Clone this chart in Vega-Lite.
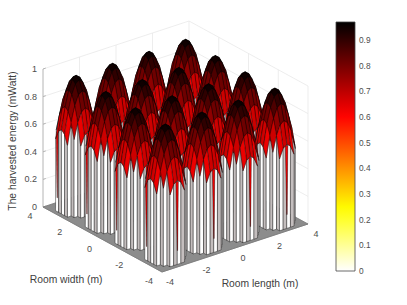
{"$schema":"https://vega.github.io/schema/vega-lite/v6.json","width":407,"height":305,"padding":0,"autosize":"none","background":"white","config":{"view":{"stroke":null},"font":"Liberation Sans"},
"datasets":{
"domes":[{"d":0,"k":1,"cx":3,"cy":3},{"d":1,"k":1,"cx":1,"cy":3},{"d":2,"k":1,"cx":-1,"cy":3},{"d":3,"k":1,"cx":-3,"cy":3},{"d":4,"k":1,"cx":3,"cy":1},{"d":5,"k":1,"cx":1,"cy":1},{"d":6,"k":1,"cx":-1,"cy":1},{"d":7,"k":1,"cx":-3,"cy":1},{"d":8,"k":1,"cx":3,"cy":-1},{"d":9,"k":1,"cx":1,"cy":-1},{"d":10,"k":1,"cx":-1,"cy":-1},{"d":11,"k":1,"cx":-3,"cy":-1},{"d":12,"k":1,"cx":3,"cy":-3},{"d":13,"k":1,"cx":1,"cy":-3},{"d":14,"k":1,"cx":-1,"cy":-3},{"d":15,"k":1,"cx":-3,"cy":-3}],
"dome":[{"k":1,
"q":[0,1,2,3,4,5,6,7,8,9,10,11,12,13,14,15,16,17,18,19,20,21,22,23,24,25,26,27,28,29,30,31,32,33,34,35,36,37,38,39,40,41,42,43,44,45,46,47,48,49,50,51,52,53,54,55,56,57,58,59,60,61,62,63,64,65,66,67,68,69],
"c":[0,-1,0,-1,0,-1,0,-1,0,-1,0,-1,0,-1,0,-1,0.62,0.62,
0.633,0.678,0.678,0.633,
0.678,0.768,0.813,0.813,0.768,0.678,
0.633,0.768,0.858,0.903,0.903,0.858,0.768,0.633,
0.678,0.813,0.903,0.948,0.948,0.903,0.813,0.678,
0.678,0.813,0.903,0.948,0.948,0.903,0.813,0.678,
0.633,0.768,0.858,0.903,0.903,0.858,0.768,0.633,
0.678,0.768,0.813,0.813,0.768,0.678,
0.633,0.678,0.678,0.633],
"x":[[-2,-2,-2,-2,-2],[-3,-3,-3,-3,-3],[3,4,4,3,3],[2,3,3,2,2],[-4,-4,-4,-4,-4],[-4,-4,-4,-4,-4],[-4,-4,-4,-4,-4],[-4,-4,-4,-4,-4],[-4,-3,-3,-4,-4],[-3,-3,-3,-3,-3],[-3,-2,-2,-3,-3],[-2,-2,-2,-2,-2],[-2,-1,-1,-2,-2],[-1,0,0,-1,-1],[0,1,1,0,0],[1,2,2,1,1],[-4,-4,-4,-4,-4],[-0.4,0.3,0.1,0,-0.4],
[1,2,2,1,1],[0,1,1,0,0],[-1,0,0,-1,-1],[-2,-1,-1,-2,-2],
[2,3,3,2,2],[1,2,2,1,1],[0,1,1,0,0],[-1,0,0,-1,-1],[-2,-1,-1,-2,-2],[-3,-2,-2,-3,-3],
[3,4,4,3,3],[2,3,3,2,2],[1,2,2,1,1],[0,1,1,0,0],[-1,0,0,-1,-1],[-2,-1,-1,-2,-2],[-3,-2,-2,-3,-3],[-4,-3,-3,-4,-4],
[3,4,4,3,3],[2,3,3,2,2],[1,2,2,1,1],[0,1,1,0,0],[-1,0,0,-1,-1],[-2,-1,-1,-2,-2],[-3,-2,-2,-3,-3],[-4,-3,-3,-4,-4],
[3,4,4,3,3],[2,3,3,2,2],[1,2,2,1,1],[0,1,1,0,0],[-1,0,0,-1,-1],[-2,-1,-1,-2,-2],[-3,-2,-2,-3,-3],[-4,-3,-3,-4,-4],
[3,4,4,3,3],[2,3,3,2,2],[1,2,2,1,1],[0,1,1,0,0],[-1,0,0,-1,-1],[-2,-1,-1,-2,-2],[-3,-2,-2,-3,-3],[-4,-3,-3,-4,-4],
[2,3,3,2,2],[1,2,2,1,1],[0,1,1,0,0],[-1,0,0,-1,-1],[-2,-1,-1,-2,-2],[-3,-2,-2,-3,-3],
[1,2,2,1,1],[0,1,1,0,0],[-1,0,0,-1,-1],[-2,-1,-1,-2,-2]],
"y":[[3,4,4,3,3],[2,3,3,2,2],[-2,-2,-2,-2,-2],[-3,-3,-3,-3,-3],[1,2,2,1,1],[0,1,1,0,0],[-1,0,0,-1,-1],[-2,-1,-1,-2,-2],[-2,-2,-2,-2,-2],[-3,-2,-2,-3,-3],[-3,-3,-3,-3,-3],[-4,-3,-3,-4,-4],[-4,-4,-4,-4,-4],[-4,-4,-4,-4,-4],[-4,-4,-4,-4,-4],[-4,-4,-4,-4,-4],[1.15,1.8,1.5,1.4,1.15],[-4,-4,-4,-4,-4],
[3,3,4,4,3],[3,3,4,4,3],[3,3,4,4,3],[3,3,4,4,3],
[2,2,3,3,2],[2,2,3,3,2],[2,2,3,3,2],[2,2,3,3,2],[2,2,3,3,2],[2,2,3,3,2],
[1,1,2,2,1],[1,1,2,2,1],[1,1,2,2,1],[1,1,2,2,1],[1,1,2,2,1],[1,1,2,2,1],[1,1,2,2,1],[1,1,2,2,1],
[0,0,1,1,0],[0,0,1,1,0],[0,0,1,1,0],[0,0,1,1,0],[0,0,1,1,0],[0,0,1,1,0],[0,0,1,1,0],[0,0,1,1,0],
[-1,-1,0,0,-1],[-1,-1,0,0,-1],[-1,-1,0,0,-1],[-1,-1,0,0,-1],[-1,-1,0,0,-1],[-1,-1,0,0,-1],[-1,-1,0,0,-1],[-1,-1,0,0,-1],
[-2,-2,-1,-1,-2],[-2,-2,-1,-1,-2],[-2,-2,-1,-1,-2],[-2,-2,-1,-1,-2],[-2,-2,-1,-1,-2],[-2,-2,-1,-1,-2],[-2,-2,-1,-1,-2],[-2,-2,-1,-1,-2],
[-3,-3,-2,-2,-3],[-3,-3,-2,-2,-3],[-3,-3,-2,-2,-3],[-3,-3,-2,-2,-3],[-3,-3,-2,-2,-3],[-3,-3,-2,-2,-3],
[-4,-4,-3,-3,-4],[-4,-4,-3,-3,-4],[-4,-4,-3,-3,-4],[-4,-4,-3,-3,-4]],
"z":[[0.678,0.52,0,0,0.678],[0.678,0.565,0,0,0.678],[0.678,0.52,0,0,0.678],[0.678,0.565,0,0,0.678],[0.588,0.52,0,0,0.588],[0.61,0.588,0,0,0.61],[0.588,0.61,0,0,0.588],[0.52,0.588,0,0,0.52],[0.52,0.678,0,0,0.52],[0.565,0.678,0,0,0.565],[0.565,0.678,0,0,0.565],[0.52,0.678,0,0,0.52],[0.52,0.588,0,0,0.52],[0.588,0.61,0,0,0.588],[0.61,0.588,0,0,0.61],[0.588,0.52,0,0,0.588],[0.58,0.54,0.1,0.1,0.58],[0.6,0.6,0.1,0.1,0.6],
[0.745,0.678,0.52,0.588,0.745],[0.768,0.745,0.588,0.61,0.768],[0.745,0.768,0.61,0.588,0.745],[0.678,0.745,0.588,0.52,0.678],
[0.79,0.678,0.565,0.678,0.79],[0.858,0.79,0.678,0.745,0.858],[0.88,0.858,0.745,0.768,0.88],[0.858,0.88,0.768,0.745,0.858],[0.79,0.858,0.745,0.678,0.79],[0.678,0.79,0.678,0.565,0.678],
[0.745,0.588,0.52,0.678,0.745],[0.858,0.745,0.678,0.79,0.858],[0.925,0.858,0.79,0.858,0.925],[0.948,0.925,0.858,0.88,0.948],[0.925,0.948,0.88,0.858,0.925],[0.858,0.925,0.858,0.79,0.858],[0.745,0.858,0.79,0.678,0.745],[0.588,0.745,0.678,0.52,0.588],
[0.768,0.61,0.588,0.745,0.768],[0.88,0.768,0.745,0.858,0.88],[0.948,0.88,0.858,0.925,0.948],[0.97,0.948,0.925,0.948,0.97],[0.948,0.97,0.948,0.925,0.948],[0.88,0.948,0.925,0.858,0.88],[0.768,0.88,0.858,0.745,0.768],[0.61,0.768,0.745,0.588,0.61],
[0.745,0.588,0.61,0.768,0.745],[0.858,0.745,0.768,0.88,0.858],[0.925,0.858,0.88,0.948,0.925],[0.948,0.925,0.948,0.97,0.948],[0.925,0.948,0.97,0.948,0.925],[0.858,0.925,0.948,0.88,0.858],[0.745,0.858,0.88,0.768,0.745],[0.588,0.745,0.768,0.61,0.588],
[0.678,0.52,0.588,0.745,0.678],[0.79,0.678,0.745,0.858,0.79],[0.858,0.79,0.858,0.925,0.858],[0.88,0.858,0.925,0.948,0.88],[0.858,0.88,0.948,0.925,0.858],[0.79,0.858,0.925,0.858,0.79],[0.678,0.79,0.858,0.745,0.678],[0.52,0.678,0.745,0.588,0.52],
[0.678,0.565,0.678,0.79,0.678],[0.745,0.678,0.79,0.858,0.745],[0.768,0.745,0.858,0.88,0.768],[0.745,0.768,0.88,0.858,0.745],[0.678,0.745,0.858,0.79,0.678],[0.565,0.678,0.79,0.678,0.565],
[0.588,0.52,0.678,0.745,0.588],[0.61,0.588,0.745,0.768,0.61],[0.588,0.61,0.768,0.745,0.588],[0.52,0.588,0.745,0.678,0.52]]}],
"walls":[{"g":"z0a","X":[-4,4],"Y":[4,4],"Z":[0,0]},{"g":"z2a","X":[-4,4],"Y":[4,4],"Z":[0.2,0.2]},{"g":"z4a","X":[-4,4],"Y":[4,4],"Z":[0.4,0.4]},{"g":"z6a","X":[-4,4],"Y":[4,4],"Z":[0.6,0.6]},{"g":"z8a","X":[-4,4],"Y":[4,4],"Z":[0.8,0.8]},{"g":"z1a","X":[-4,4],"Y":[4,4],"Z":[1,1]},
{"g":"z0b","X":[4,4],"Y":[-4,4],"Z":[0,0]},{"g":"z2b","X":[4,4],"Y":[-4,4],"Z":[0.2,0.2]},{"g":"z4b","X":[4,4],"Y":[-4,4],"Z":[0.4,0.4]},{"g":"z6b","X":[4,4],"Y":[-4,4],"Z":[0.6,0.6]},{"g":"z8b","X":[4,4],"Y":[-4,4],"Z":[0.8,0.8]},{"g":"z1b","X":[4,4],"Y":[-4,4],"Z":[1,1]},
{"g":"v1","X":[-2,-2],"Y":[4,4],"Z":[0,1]},{"g":"v2","X":[0,0],"Y":[4,4],"Z":[0,1]},{"g":"v3","X":[2,2],"Y":[4,4],"Z":[0,1]},{"g":"v4","X":[4,4],"Y":[4,4],"Z":[0,1]},{"g":"v5","X":[4,4],"Y":[-4,-4],"Z":[0,1]},{"g":"v6","X":[4,4],"Y":[-2,-2],"Z":[0,1]},{"g":"v7","X":[4,4],"Y":[0,0],"Z":[0,1]},{"g":"v8","X":[4,4],"Y":[2,2],"Z":[0,1]}],
"axes":[{"g":"za","X":[-4,-4],"Y":[4,4],"Z":[0,1]},{"g":"t0","X":[-4,-3.85],"Y":[4,4],"Z":[0,0]},{"g":"t2","X":[-4,-3.85],"Y":[4,4],"Z":[0.2,0.2]},{"g":"t4","X":[-4,-3.85],"Y":[4,4],"Z":[0.4,0.4]},{"g":"t6","X":[-4,-3.85],"Y":[4,4],"Z":[0.6,0.6]},{"g":"t8","X":[-4,-3.85],"Y":[4,4],"Z":[0.8,0.8]},{"g":"t1","X":[-4,-3.85],"Y":[4,4],"Z":[1,1]},{"g":"fa","X":[-4,4],"Y":[-4,-4],"Z":[0,0]},{"g":"fb","X":[-4,-4],"Y":[-4,4],"Z":[0,0]}],
"floor":[{"X":[-4,4,4,-4,-4],"Y":[-4,-4,4,4,-4],"Z":[0,0,0,0,0]}],
"labels":[{"t":"1","k":"z","X":-4,"Y":4,"Z":1},{"t":"0.8","k":"z","X":-4,"Y":4,"Z":0.8},{"t":"0.6","k":"z","X":-4,"Y":4,"Z":0.6},{"t":"0.4","k":"z","X":-4,"Y":4,"Z":0.4},{"t":"0.2","k":"z","X":-4,"Y":4,"Z":0.2},{"t":"0","k":"z","X":-4,"Y":4,"Z":0},
{"t":"4","k":"y","X":-4,"Y":4,"Z":0},{"t":"2","k":"y","X":-4,"Y":2,"Z":0},{"t":"0","k":"y","X":-4,"Y":0,"Z":0},{"t":"-2","k":"y","X":-4,"Y":-2,"Z":0},{"t":"-4","k":"y","X":-4,"Y":-4,"Z":0},
{"t":"-4","k":"x","X":-4,"Y":-4,"Z":0},{"t":"-2","k":"x","X":-2,"Y":-4,"Z":0},{"t":"0","k":"x","X":0,"Y":-4,"Z":0},{"t":"2","k":"x","X":2,"Y":-4,"Z":0},{"t":"4","k":"x","X":4,"Y":-4,"Z":0},
{"t":"Room width (m)","k":"h","X":-7.78,"Y":-2.19,"Z":0},{"t":"Room length (m)","k":"h","X":-1.4,"Y":-7.4,"Z":0},{"t":"The harvested energy (mWatt)","k":"v","X":-4,"Y":4,"Z":0.478}]
},
"encoding":{"x":{"field":"sx","type":"quantitative","scale":{"domain":[0,407],"nice":false,"zero":false},"axis":null},"y":{"field":"sy","type":"quantitative","scale":{"domain":[305,0],"nice":false,"zero":false},"axis":null}},
"layer":[
{"data":{"name":"walls"},"transform":[{"flatten":["X","Y","Z"]},{"calculate":"162+(datum.X+4)*18.25-(datum.Y+4)*14.875","as":"sx"},{"calculate":"272-(datum.X+4)*6-(datum.Y+4)*8.125-datum.Z*138","as":"sy"}],"mark":{"type":"line","order":false,"stroke":"#e8e8e8","strokeWidth":0.8},"encoding":{"detail":{"field":"g"}}},
{"data":{"name":"axes"},"transform":[{"flatten":["X","Y","Z"]},{"calculate":"162+(datum.X+4)*18.25-(datum.Y+4)*14.875","as":"sx"},{"calculate":"272-(datum.X+4)*6-(datum.Y+4)*8.125-datum.Z*138","as":"sy"}],"mark":{"type":"line","order":false,"stroke":"#b4b4b4","strokeWidth":1},"encoding":{"detail":{"field":"g"}}},
{"data":{"name":"floor"},"transform":[{"flatten":["X","Y","Z"]},{"calculate":"162+(datum.X+4)*18.25-(datum.Y+4)*14.875","as":"sx"},{"calculate":"272-(datum.X+4)*6-(datum.Y+4)*8.125-datum.Z*138","as":"sy"}],"mark":{"type":"line","order":false,"stroke":"#777","strokeWidth":0.8,"fill":"#8c8c8c"}},
{"data":{"name":"domes"},"transform":[{"lookup":"k","from":{"data":{"name":"dome"},"key":"k","fields":["q","c","x","y","z"]}},{"flatten":["q","c","x","y","z"]},{"flatten":["x","y","z"]},{"calculate":"datum.cx+datum.x*0.2+4","as":"A"},{"calculate":"datum.cy+datum.y*0.2+4","as":"B"},{"calculate":"162+datum.A*18.25-datum.B*14.875","as":"sx"},{"calculate":"272-datum.A*6-datum.B*8.125-datum.z*138","as":"sy"}],
"mark":{"type":"line","order":false,"stroke":"#000","strokeWidth":0.45,"strokeOpacity":0.85},
"encoding":{"detail":[{"field":"d"},{"field":"q"}],"fill":{"condition":{"test":"datum.c<0","value":"#c4bebe"},"field":"c","type":"quantitative","scale":{"domain":[0,0.2425,0.606,0.97],"range":["#ffffff","#ffff00","#ff0000","#000000"],"interpolate":"rgb"},"legend":{"orient":"none","legendX":336,"legendY":22,"title":null,"gradientLength":249,"gradientThickness":19,"values":[0,0.1,0.2,0.3,0.4,0.5,0.6,0.7,0.8,0.9],"format":"~g","labelFontSize":8.3,"labelColor":"#4d4d4d","labelOverlap":false,"gradientStrokeColor":"#444","gradientStrokeWidth":0.8,"labelOffset":4,"encode":{"labels":{"update":{"baseline":{"value":"middle"},"dy":{"value":1}}}}}}}},
{"data":{"name":"labels"},"transform":[{"filter":"datum.k=='z'"},{"calculate":"162+(datum.X+4)*18.25-(datum.Y+4)*14.875","as":"sx"},{"calculate":"272-(datum.X+4)*6-(datum.Y+4)*8.125-datum.Z*138","as":"sy"}],"mark":{"type":"text","align":"right","baseline":"middle","dx":-6,"fontSize":9,"color":"#4d4d4d"},"encoding":{"text":{"field":"t"}}},
{"data":{"name":"labels"},"transform":[{"filter":"datum.k=='y'"},{"calculate":"162+(datum.X+4)*18.25-(datum.Y+4)*14.875","as":"sx"},{"calculate":"272-(datum.X+4)*6-(datum.Y+4)*8.125-datum.Z*138","as":"sy"}],"mark":{"type":"text","align":"center","baseline":"middle","dx":-13,"dy":9,"fontSize":9,"color":"#4d4d4d"},"encoding":{"text":{"field":"t"}}},
{"data":{"name":"labels"},"transform":[{"filter":"datum.k=='x'"},{"calculate":"162+(datum.X+4)*18.25-(datum.Y+4)*14.875","as":"sx"},{"calculate":"272-(datum.X+4)*6-(datum.Y+4)*8.125-datum.Z*138","as":"sy"}],"mark":{"type":"text","align":"center","baseline":"middle","dx":8,"dy":10,"fontSize":9,"color":"#4d4d4d"},"encoding":{"text":{"field":"t"}}},
{"data":{"name":"labels"},"transform":[{"filter":"datum.k=='h'"},{"calculate":"162+(datum.X+4)*18.25-(datum.Y+4)*14.875","as":"sx"},{"calculate":"272-(datum.X+4)*6-(datum.Y+4)*8.125-datum.Z*138","as":"sy"}],"mark":{"type":"text","align":"center","baseline":"middle","fontSize":10.3,"color":"#404040"},"encoding":{"text":{"field":"t"}}},
{"data":{"name":"labels"},"transform":[{"filter":"datum.k=='v'"},{"calculate":"162+(datum.X+4)*18.25-(datum.Y+4)*14.875","as":"sx"},{"calculate":"272-(datum.X+4)*6-(datum.Y+4)*8.125-datum.Z*138","as":"sy"}],"mark":{"type":"text","align":"center","baseline":"middle","angle":270,"fontSize":10.3,"color":"#404040","xOffset":-30},"encoding":{"text":{"field":"t"}}}
]}
